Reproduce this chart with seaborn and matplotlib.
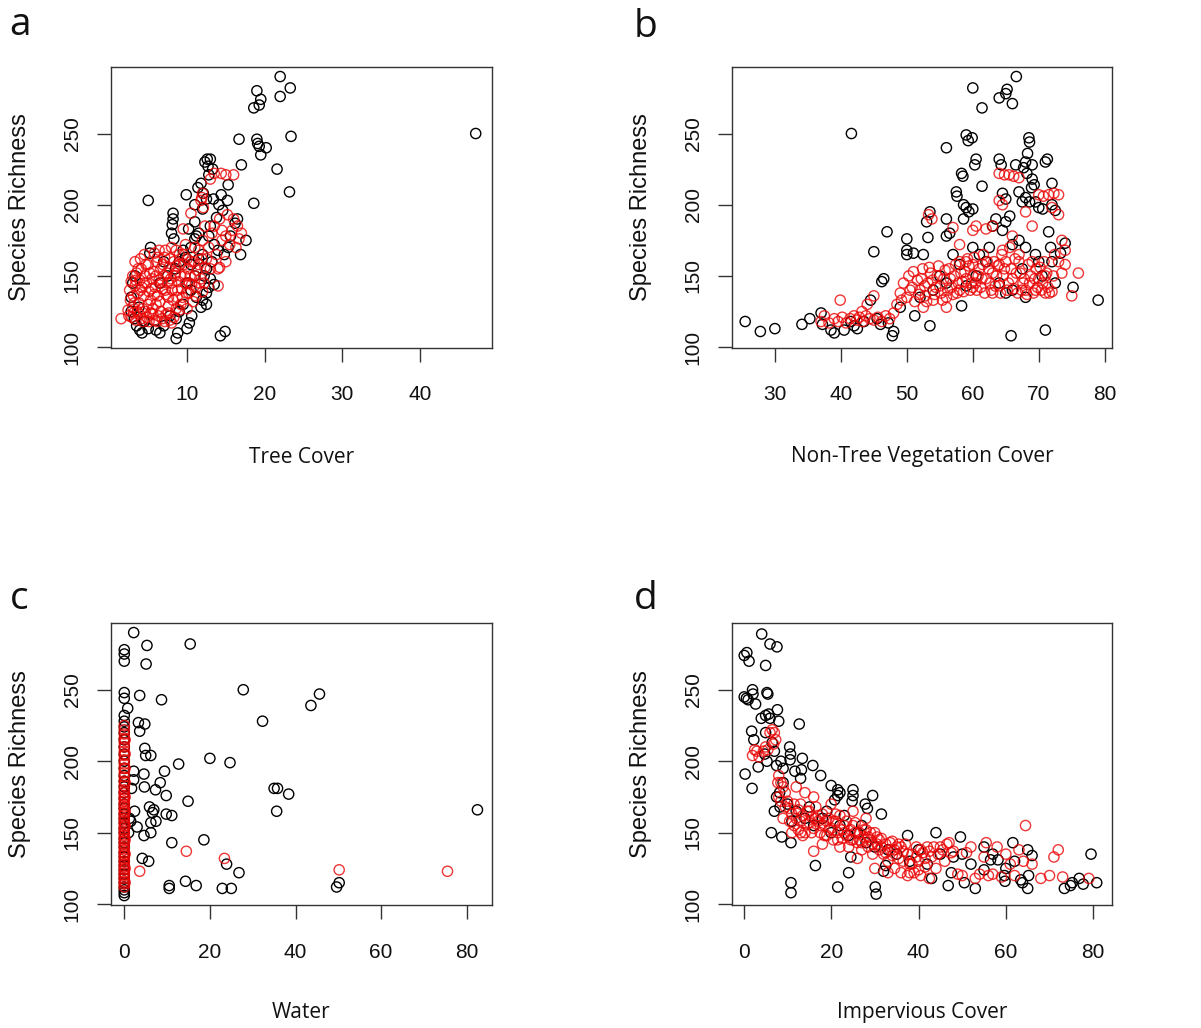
import matplotlib
matplotlib.use("Agg")
import matplotlib.pyplot as plt
import seaborn as sns
import pandas as pd

# ---------------- data ----------------
y_ticks = [100, 150, 200, 250]

a_black = [(22.0,290),(23.3,282),(22.0,276),(19.0,280),(19.5,274),(19.3,270),(18.6,268),(47.2,250),(23.4,248),
           (16.7,246),(19.0,246),(19.1,243),(19.3,241),(20.2,240),(19.5,235),(17.0,228),(21.6,225),(23.2,209),
           (18.6,201),(5.0,203),(17.6,175),(16.9,165),(15.3,170),(15.6,178),(16.2,187),(16.5,190),
           (12.3,230),(12.6,232),(13.0,232),(12.7,227),(13.3,225),(12.8,221),(11.8,215),(11.4,212),(12.1,208),
           (12.5,204),(13.4,204),(14.1,200),(14.4,207),(15.3,214),(15.2,203),(14.6,196),(13.8,191),(12.0,197),
           (11.0,200),(9.9,207),(13.0,185),(12.8,178),(11.2,178),(11.5,180),(11.0,176),(10.5,170),(9.5,168),
           (13.5,172),(14.0,168),(14.8,165),(13.2,160),(12.5,155),(12.2,150),(13.0,148),(13.5,144),(12.8,142),
           (12.5,138),(12.0,133),(12.5,130),(11.8,128),(11.2,135),(10.5,140),
           (8.2,194),(8.2,190),(8.1,186),(8.0,180),(8.3,176),(5.3,170),(5.2,166),(9.0,160),(8.5,155),(7.5,150),
           (6.5,145),(7.0,160),
           (14.3,108),(14.9,111),(10.6,122),(10.3,117),(10.0,113),(8.8,110),(8.6,106),(8.6,120),(2.8,125),
           (3.5,115),(3.9,112),(4.2,110),(5.0,113),(6.0,112),(6.5,110),(3.2,120),(4.5,118),(7.0,115),(3.8,128),
           (2.8,135),(3.0,145),(3.3,150),(9.5,130),(9.0,125),(7.8,122),(10.0,145),(11.0,150),(10.5,158),
           (9.8,163),(11.5,162),(12.0,165),(11.0,188),(10.2,183)]

a_red = [(2.6,140),(2.8,146),(3.0,150),(3.1,136),(3.3,143),(3.5,152),(3.6,138),(3.8,131),(3.9,147),(4.1,155),
         (4.2,142),(4.4,136),(4.6,150),(4.8,145),(5.0,158),(5.1,139),(5.3,133),(5.5,148),(5.7,153),(5.9,142),
         (6.1,160),(6.2,136),(6.4,147),(6.6,155),(6.8,141),(7.0,150),(7.1,163),(7.3,137),(7.5,145),(7.7,156),
         (7.9,148),(8.1,140),(8.3,160),(8.5,152),(8.7,135),(8.9,146),(9.1,158),(9.3,141),(9.5,165),(9.7,150),
         (9.9,138),(10.1,155),(10.3,145),(10.5,160),(10.8,132),(11.0,150),(11.2,142),(11.5,158),(11.8,148),
         (12.0,139),(12.3,156),(4.0,162),(5.8,166),(7.2,168),(8.6,168),(3.2,131),(6.0,130),(7.6,129),(9.2,130),
         (10.0,127),
         (2.7,133),(3.0,128),(3.4,147),(3.7,155),(4.0,140),(4.3,127),(4.5,145),(4.7,158),(5.0,130),(5.2,152),
         (5.4,141),(5.6,127),(5.8,137),(6.0,150),(6.2,163),(6.5,132),(6.7,145),(6.9,158),(7.2,140),(7.4,152),
         (7.6,135),(7.8,162),(8.0,145),(8.2,133),(8.4,150),(8.6,157),(8.8,140),(9.0,165),(9.2,150),(9.4,135),
         (9.6,158),(9.8,145),(10.0,162),(10.2,138),(10.4,150),(10.6,144),(10.9,160),(11.1,136),(11.3,154),
         (11.6,145),(11.9,162),(12.2,145),(3.3,160),(4.5,165),(6.4,168),(8.0,170),(9.8,172),(11.0,170),
         (12.5,162),(13.0,155),
         (1.5,120),(2.9,121),(3.4,119),(3.9,123),(4.3,118),(4.8,121),(5.3,124),(5.8,119),(6.3,122),(6.8,120),
         (7.3,123),(7.8,119),(8.3,121),(2.4,126),(9.0,126),(3.6,125),(4.6,125),(5.6,123),(6.6,125),(7.6,124),
         (8.6,127),(2.5,122),(3.1,124),(4.1,120),(5.1,118),(6.1,118),(7.1,118),(8.0,117),
         (12.0,208),(11.8,203),(12.1,198),(11.9,205),(13.5,222),(14.4,222),(15.0,221),(16.0,221),(13.0,218),
         (10.5,194),(9.5,183),(14.0,155),(14.0,143),(14.2,156),(16.0,190),(16.5,185),(17.0,180),(16.7,176),
         (13.5,185),(14.5,182),(15.0,178),(15.5,172),(14.2,190),(13.2,180),(12.8,170),(12.3,185),(12.0,175),
         (11.5,168),(13.8,165),(15.0,160),(14.5,175),(15.8,182),(15.2,193),(16.3,170)]

b_black = [(25.5,118),(27.8,111),(30.0,113),(34.1,116),(35.3,120),(37.0,124),(37.2,116),(38.5,112),(39.0,110),
           (40.5,112),(41.5,118),(42.0,115),(42.5,113),(41.6,250),(44.5,133),(45.0,167),(46.2,146),(46.5,148),
           (47.0,181),(46.0,116),(47.2,117),(47.8,108),(48.0,111),(50.0,176),(50.0,165),(50.0,168),(51.0,166),
           (51.2,122),(52.5,165),(53.0,188),(53.2,177),(53.5,195),(53.5,115),(56.0,240),(56.0,190),(56.0,178),
           (56.5,180),(57.5,209),(57.6,206),(58.3,222),(58.5,220),(58.3,129),(59.0,249),(59.3,245),(59.9,247),
           (60.0,282),(61.4,268),(60.5,232),(60.3,228),(61.4,213),(59.0,198),(59.4,195),(60.0,197),(58.6,200),
           (58.6,190),(64.0,275),(65.0,278),(65.2,281),(66.0,271),(66.6,290),(64.0,232),(64.3,228),(64.5,208),
           (65.0,204),(65.8,108),(66.5,228),(67.0,209),(67.5,202),(68.0,205),(68.6,202),(68.5,247),(68.6,244),
           (68.3,236),(68.0,230),(67.7,226),(68.2,222),(69.0,228),(69.0,218),(69.3,214),(68.9,212),(69.5,202),
           (70.0,198),(70.6,197),(71.0,230),(71.3,232),(72.0,215),(72.0,200),(72.5,196),(71.5,181),(74.0,173),
           (73.3,166),(75.2,142),(79.0,133),(71.0,112),(65.0,188),(65.6,192),(64.5,182),(66.0,172),(63.5,190),
           (63.0,185),(62.5,170),(61.0,165),(60.0,170),(57.0,165),(58.0,158),(55.0,150),(54.0,140),(52.0,135),
           (56.0,145),(62.0,160),(64.0,145),(66.0,140),(67.0,175),(68.0,170),(69.5,165),(70.0,160),(68.0,135),
           (70.5,150),(72.5,145),(72.0,160),(71.8,170),(65.0,138),(67.5,155),(60.5,150),(59.0,143),(45.5,120),
           (43.5,118),(49.0,128)]

b_red = [(37.0,118),(37.5,122),(38.2,117),(39.0,120),(39.6,118),(40.2,121),(40.8,117),(41.4,120),(42.0,122),
         (42.4,119),(42.8,121),(43.3,118),(43.8,122),(44.4,120),(45.0,119),(45.6,121),(46.2,118),(46.8,122),
         (47.4,120),(48.0,124),(39.9,133),(43.2,125),(45.0,136),
         (48.5,130),(49.0,138),(49.5,145),(50.0,135),(50.3,150),(50.8,142),(51.2,132),(51.6,147),(52.0,140),
         (52.4,155),(52.8,136),(53.2,145),(53.6,152),(54.0,133),(54.4,142),(54.8,157),(55.2,138),(55.6,148),
         (56.0,135),(56.4,155),(56.8,142),(57.2,150),(57.6,138),(58.0,160),(58.4,146),(58.8,153),(59.2,162),
         (59.6,140),(60.0,158),(60.4,145),(60.8,150),(61.2,142),(61.6,165),(62.0,148),(62.4,155),(62.8,140),
         (63.2,160),(63.6,150),(64.0,143),(64.4,165),(64.8,155),(65.2,140),(65.6,170),(66.0,148),(66.4,162),
         (66.8,138),(67.2,152),(67.6,145),(68.0,140),(68.4,158),(68.8,150),(69.2,138),(69.6,155),(70.0,148),
         (70.4,140),(70.8,160),(71.2,152),(71.6,138),(72.0,139),(72.4,165),(73.0,160),(73.5,152),(74.0,158),
         (49.2,133),(50.5,140),(51.0,153),(51.8,137),(52.2,148),(52.7,143),(53.0,132),(53.4,156),(53.9,147),
         (54.2,137),(54.6,150),(55.0,143),(55.4,133),(55.8,154),(56.2,140),(56.6,148),(57.0,137),(57.4,158),
         (57.8,145),(58.2,152),(58.6,139),(59.0,148),(59.4,157),(59.8,145),(60.2,163),(60.6,140),(61.0,155),
         (61.4,148),(61.8,138),(62.2,160),(62.6,145),(63.0,152),(63.4,143),(63.8,157),(64.2,138),(64.6,150),
         (65.0,160),(65.4,145),(65.8,155),(66.2,141),(66.6,152),(67.0,160),(67.4,140),(67.8,148),(68.2,137),
         (68.6,145),(69.0,160),(69.4,148),(69.8,142),(70.2,156),(70.6,145),(71.0,150),(71.4,142),(72.2,150),
         (60.0,150),(59.0,160),(58.0,140),(61.5,158),(64.0,158),(67.0,165),
         (52.5,128),(56.0,128),(60.0,142),(63.0,138),(66.0,178),(64.5,168),(58.0,172),(57.0,184),(53.3,193),
         (53.8,190),(60.0,182),(60.5,185),(62.0,183),(63.0,185),(64.5,200),(64.0,203),
         (64.0,222),(64.8,221),(65.5,221),(66.2,220),(67.0,219),(70.0,207),(70.7,206),(71.5,207),(72.3,208),
         (73.0,207),(72.0,198),(73.0,193),(68.0,195),(69.0,185),
         (76.0,152),(75.0,136),(71.0,138),(69.5,140),(74.0,168),(73.5,175),(44.0,130)]

c_black = [(0,106),(0,108),(0,110),(0,112),(0,115),(0,118),(0,121),(0,124),(0,127),(0,130),(0,133),(0,136),
           (0,140),(0,143),(0,146),(0,150),(0,153),(0,157),(0,160),(0,163),(0,167),(0,170),(0,174),(0,178),
           (0,182),(0,186),(0,190),(0,195),(0,200),(0,205),(0,210),(0,215),(0,220),(0,224),(0,228),(0,232),
           (0,244),(0,248),(0,270),(0,275),(0,278),(0.8,237),
           (2.2,290),(5.3,281),(5.1,268),(15.4,282),(3.6,246),(8.7,243),(27.8,250),(43.6,239),(45.6,247),
           (32.3,228),(3.3,227),(4.8,226),(3.6,221),(4.8,209),(5.0,204),(6.2,204),(20.0,202),(24.7,199),
           (12.7,198),(2.2,193),(9.4,193),(4.6,191),(2.2,187),(1.7,181),(4.7,182),(7.3,180),(8.4,185),
           (9.8,176),(35.0,181),(35.8,181),(38.4,177),(35.6,165),(14.9,172),(82.5,166),(2.4,165),(5.9,168),
           (6.6,164),(6.9,166),(7.4,158),(6.2,157),(9.8,163),(11.1,162),(1.5,158),(3.0,154),(4.6,148),
           (6.2,150),(18.6,145),(11.1,143),(4.2,132),(5.7,130),(23.9,128),(26.8,122),(14.3,116),(16.8,113),
           (10.5,113),(10.5,111),(22.9,111),(25.0,111),(50.2,115),(49.6,112),(1.0,150),(1.2,160)]

c_red = [(0,112),(0,114),(0,116),(0,118),(0,120),(0,122),(0,124),(0,126),(0,128),(0,130),(0,132),(0,134),
         (0,136),(0,138),(0,140),(0,142),(0,144),(0,146),(0,148),(0,150),(0,152),(0,154),(0,156),(0,158),
         (0,160),(0,162),(0,164),(0,166),(0,168),(0,170),(0,172),(0,174),(0,176),(0,178),(0,180),(0,183),
         (0,186),(0,189),(0,192),(0,195),(0,198),(0,201),(0,204),(0,207),(0,210),(0,213),(0,216),(0,219),
         (0,222),(0,225),(0.2,115),(0.2,125),(0.2,135),(0.2,145),(0.2,155),(0.2,165),(0.2,175),(0.2,185),
         (0.2,195),(0.2,205),(0.2,215),
         (3.6,123),(14.5,137),(23.4,132),(50.2,124),(75.5,123)]

d_black = [(0.3,191),(0.1,245),(0.6,244),(1.0,243),(0.1,274),(0.7,276),(1.2,270),(2.0,250),(2.1,247),(2.7,240),
           (4.1,289),(5.0,267),(6.0,282),(7.6,280),(5.3,248),(5.5,247),(1.8,221),(2.3,215),(1.9,181),(3.3,196),
           (4.0,230),(5.0,232),(5.7,233),(6.0,230),(7.7,236),(8.0,228),(5.0,220),(4.8,205),(5.3,200),(6.5,213),
           (7.0,207),(7.5,197),(8.5,200),(9.0,195),(9.0,185),(8.2,178),(7.5,175),(7.0,165),(8.3,168),(12.7,226),
           (10.5,210),(10.7,205),(10.6,201),(13.4,202),(13.2,194),(11.7,193),(13.0,188),(15.8,197),(17.6,190),
           (20.0,183),(21.5,180),(22.0,178),(21.5,176),(20.8,173),(25.0,180),(25.0,176),(24.8,172),(27.8,170),
           (28.3,167),(29.5,176),(31.5,163),(6.3,150),(8.7,147),(10.8,143),(16.4,127),(24.5,133),(24.0,122),
           (21.5,112),(10.8,115),(10.8,108),(30.1,112),(30.3,107),(32.5,127),(32.0,123),(37.5,148),(44.0,150),
           (49.6,147),(46.8,113),(53.0,111),(50.5,115),(47.5,122),(43.0,118),(58.2,131),(59.7,120),(59.8,116),
           (61.6,143),(65.0,138),(63.4,117),(63.8,115),(65.0,111),(65.2,120),(73.4,111),(74.8,113),(75.2,115),
           (76.8,118),(77.7,114),(79.5,135),(80.8,115),(56.5,131),(55.0,124),
           (12.0,165),(14.0,160),(16.0,155),(18.0,160),(20.0,150),(22.0,155),(24.0,148),(26.0,150),(28.0,143),
           (30.0,140),(33.0,138),(35.0,135),(38.0,130),(40.0,138),(42.0,128),(45.0,135),(48.0,133),(50.0,135),
           (52.0,128),(55.0,140),(57.0,135),(60.0,125),(62.0,130),(66.0,134),(10.0,170),(11.0,158),(15.0,168),
           (19.0,165),(23.0,162),(27.0,155)]

d_red = [(2.0,204),(2.5,208),(3.0,207),(3.5,203),(5.5,208),(6.0,220),(6.5,222),(7.0,220),(7.3,215),(8.0,190),
         (8.5,185),(9.0,182),(8.0,175),(9.5,178),(10.0,172),(10.5,167),(11.0,163),(11.5,170),(12.0,160),
         (12.5,166),(13.0,158),(13.5,162),(14.0,150),(14.5,165),(15.0,157),(15.5,161),(16.0,153),(16.5,168),
         (17.0,158),(17.5,150),(18.0,163),(18.5,155),(19.0,148),(19.5,160),(20.0,153),(20.5,145),(21.0,158),
         (21.5,150),(22.0,162),(22.5,146),(23.0,155),(23.5,148),(24.0,140),(24.5,152),(25.0,145),(25.5,157),
         (26.0,143),(26.5,150),(27.0,138),(27.5,147),(28.0,152),(28.5,140),(29.0,145),(29.5,135),(30.0,150),
         (30.5,142),(31.0,138),(31.5,146),(32.0,135),(32.5,142),(33.0,130),(33.5,138),(34.0,144),(34.5,125),
         (35.0,140),(35.5,132),(36.0,122),(36.5,137),(37.0,142),(37.5,120),(38.0,128),(38.5,135),(39.0,122),
         (39.5,140),(40.0,130),(40.5,120),(41.0,136),(41.5,126),(42.0,140),(42.5,118),(43.0,133),(44.0,125),
         (45.0,140),(46.0,130),(47.0,143),(48.0,137),(49.0,121),(50.0,120),(51.0,136),(52.0,140),(53.0,118),
         (54.0,121),(55.0,133),(55.5,143),(56.0,120),(57.0,121),(58.0,140),(59.0,119),(60.0,135),(61.0,128),
         (62.0,120),(63.0,138),(64.0,130),(64.5,155),(66.0,128),(68.0,118),(70.0,120),(71.0,133),(72.0,138),
         (73.0,119),(79.0,118),(12.0,182),(14.0,178),(16.0,175),(20.0,170),(25.0,165),(28.0,160),(18.0,142),
         (22.0,140),(26.0,132),(30.0,125),(33.0,122),(16.0,137),(13.0,150),(11.0,150),(9.0,160),
         (10.5,158),(11.5,155),(12.5,152),(13.5,148),(14.5,156),(15.5,150),(16.5,160),(17.5,155),(18.5,148),
         (19.5,152),(20.5,158),(21.5,145),(22.5,152),(23.5,158),(24.5,145),(25.5,150),(26.5,145),(27.5,152),
         (28.5,147),(29.5,142),(30.5,147),(31.5,140),(32.5,136),(33.5,143),(34.5,138),(35.5,142),(36.5,130),
         (37.5,135),(38.5,128),(39.5,133),(40.5,138),(41.5,132),(42.5,137),(43.5,140),(44.5,135),(45.5,138),
         (46.5,142),(47.5,136),(34.0,134),(36.0,140),(38.0,122),(40.0,124),(13.0,170),(15.0,165),(17.0,162),
         (19.0,158),(21.0,163),(23.0,150),(25.0,155),(27.0,143),(29.0,150),(31.0,145),(9.5,168),(8.5,172),
         (7.8,185),(6.8,212),(4.5,207),(5.0,210)]

# ---------------- styling ----------------
sns.set_style("white")
plt.rcParams["font.family"] = ["Liberation Sans", "DejaVu Sans"]

W, H = 1201, 1028
fig = plt.figure(figsize=(W / 100, H / 100), dpi=100)

MS = 54
LW = 1.0
RED = (0.92, 0.02, 0.02)
YLIM = (99.4, 296.7)

panels = [
    dict(box=(111, 67, 492, 348), xlim=(0.2, 49.3), xticks=[10, 20, 30, 40], xlabel="Tree Cover",
         black=a_black, red=a_red, letter="a", lpos=(9, 35), xlab_y=463, ylab_x=20),
    dict(box=(732, 67, 1112, 348), xlim=(23.5, 81.1), xticks=[30, 40, 50, 60, 70, 80],
         xlabel="Non-Tree Vegetation Cover", black=b_black, red=b_red, letter="b", lpos=(634, 37),
         xlab_y=462, ylab_x=641),
    dict(box=(111, 623, 492, 905), xlim=(-3.1, 85.9), xticks=[0, 20, 40, 60, 80], xlabel="Water",
         black=c_black, red=c_red, letter="c", lpos=(10, 609), xlab_y=1018, ylab_x=20),
    dict(box=(732, 623, 1112, 905), xlim=(-2.7, 84.3), xticks=[0, 20, 40, 60, 80], xlabel="Impervious Cover",
         black=d_black, red=d_red, letter="d", lpos=(634, 609), xlab_y=1018, ylab_x=641),
]

for p in panels:
    l, t, r, b = p["box"]
    ax = fig.add_axes([l / W, 1 - b / H, (r - l) / W, (b - t) / H])
    dfb = pd.DataFrame(p["black"], columns=["x", "y"])
    dfr = pd.DataFrame(p["red"], columns=["x", "y"])
    sns.scatterplot(data=dfb, x="x", y="y", ax=ax, marker="o", s=MS, facecolor="none",
                    edgecolor="black", linewidth=LW, legend=False)
    sns.scatterplot(data=dfr, x="x", y="y", ax=ax, marker="o", s=MS, facecolor="none",
                    edgecolor=RED, linewidth=LW, alpha=0.8, legend=False)
    ax.set_xlim(*p["xlim"])
    ax.set_ylim(*YLIM)
    ax.set_xticks(p["xticks"])
    ax.set_yticks(y_ticks)
    ax.set_xticklabels([str(v) for v in p["xticks"]])
    ax.set_yticklabels([str(v) for v in y_ticks], rotation=90, va="center")
    for s in ax.spines.values():
        s.set_visible(True)
        s.set_color("#333333")
        s.set_linewidth(1.0)
    ax.tick_params(axis="both", direction="out", length=10, width=1.0, color="#333333",
                   labelsize=15, labelcolor="#111111")
    ax.tick_params(axis="x", pad=17, bottom=True)
    ax.tick_params(axis="y", pad=11, left=True)
    ax.set_xlabel(p["xlabel"], fontsize=15, fontfamily=["Open Sans", "DejaVu Sans"], va="baseline",
                  color="#111111")
    ax.set_ylabel("Species Richness", fontsize=17, fontfamily=["Liberation Sans", "DejaVu Sans"],
                  color="#111111")
    ax.xaxis.set_label_coords(0.5, (b - p["xlab_y"]) / (b - t))
    ax.yaxis.label.set_va("center")
    ax.yaxis.set_label_coords((p["ylab_x"] - l) / (r - l), 0.5)
    fig.text(p["lpos"][0] / W, 1 - p["lpos"][1] / H, p["letter"], fontsize=28,
             fontfamily=["Open Sans", "DejaVu Sans"], ha="left", va="baseline", color="#111111")

fig.savefig("out.png", dpi=100, facecolor="white")
